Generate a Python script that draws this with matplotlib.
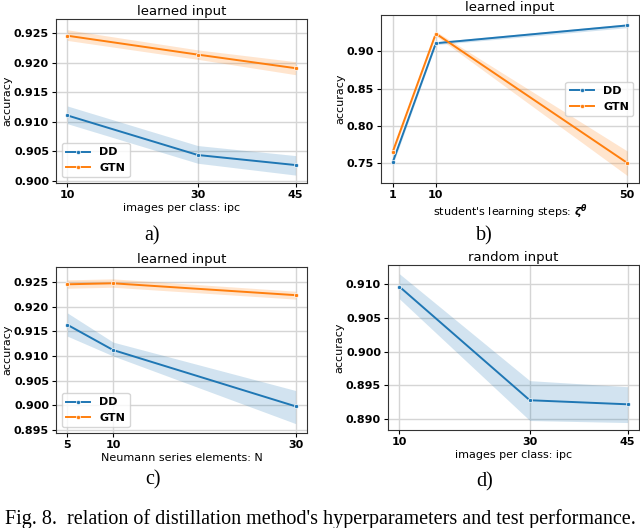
import matplotlib
matplotlib.use("Agg")
import matplotlib.pyplot as plt
from matplotlib.ticker import FormatStrFormatter

# a) learned input, images per class
ipc = [10, 30, 45]
a_dd = [0.9111, 0.9044, 0.9027]
a_dd_lo = [0.9097, 0.9030, 0.9010]
a_dd_hi = [0.9127, 0.9060, 0.9043]
a_gtn = [0.9246, 0.9214, 0.9191]
a_gtn_lo = [0.9238, 0.9206, 0.9180]
a_gtn_hi = [0.9256, 0.9222, 0.9202]

# b) learned input, student's learning steps
steps = [1, 10, 50]
b_dd = [0.751, 0.911, 0.935]
b_dd_lo = [0.747, 0.909, 0.932]
b_dd_hi = [0.755, 0.913, 0.937]
b_gtn = [0.765, 0.924, 0.750]
b_gtn_lo = [0.761, 0.921, 0.733]
b_gtn_hi = [0.769, 0.927, 0.766]

# c) learned input, Neumann series elements
neumann = [5, 10, 30]
c_dd = [0.9163, 0.9112, 0.8998]
c_dd_lo = [0.9140, 0.9100, 0.8963]
c_dd_hi = [0.9187, 0.9128, 0.9030]
c_gtn = [0.9245, 0.9247, 0.9223]
c_gtn_lo = [0.9237, 0.9239, 0.9215]
c_gtn_hi = [0.9254, 0.9256, 0.9231]

# d) random input, images per class
d_dd = [0.9096, 0.8928, 0.8922]
d_dd_lo = [0.9078, 0.8898, 0.8895]
d_dd_hi = [0.9115, 0.8957, 0.8948]

BLUE = '#1f77b4'
ORANGE = '#ff7f0e'

W, H = 640, 528
fig = plt.figure(figsize=(6.4, 5.28), dpi=100)


def px_axes(l, t, r, b):
    return fig.add_axes([l / W, 1 - b / H, (r - l) / W, (b - t) / H])


def draw(ax, x, series, title, xlabel, yticks, yfmt, ylim, legend_loc=None):
    for y, lo, hi, c, lab in series:
        ax.fill_between(x, lo, hi, color=c, alpha=0.2, lw=0)
        ax.plot(x, y, color=c, lw=1.4, marker='o', ms=3,
                mec='white', mew=0.5, label=lab)
    ax.set_title(title, fontsize=9.5, pad=3)
    ax.set_xlabel(xlabel, fontsize=8, labelpad=2)
    ax.set_ylabel('accuracy', fontsize=8, labelpad=1)
    ax.set_xticks(x)
    ax.set_yticks(yticks)
    ax.set_ylim(*ylim)
    pad = (x[-1] - x[0]) * 0.05
    ax.set_xlim(x[0] - pad, x[-1] + pad)
    ax.grid(True, color='#d5d5d5', lw=1)
    ax.set_axisbelow(True)
    ax.yaxis.set_major_formatter(FormatStrFormatter(yfmt))
    for lbl in ax.get_xticklabels() + ax.get_yticklabels():
        lbl.set_fontweight('bold')
        lbl.set_fontsize(8)
    ax.tick_params(length=3, pad=2)
    for s in ax.spines.values():
        s.set_color('#333333')
        s.set_linewidth(0.8)
    if legend_loc:
        leg = ax.legend(loc=legend_loc, prop={'weight': 'bold', 'size': 8},
                        handlelength=2.2)
        leg.get_frame().set_edgecolor('#cccccc')


ax = px_axes(56, 19, 307, 183)
draw(ax, ipc, [(a_dd, a_dd_lo, a_dd_hi, BLUE, 'DD'),
               (a_gtn, a_gtn_lo, a_gtn_hi, ORANGE, 'GTN')],
     'learned input', 'images per class: ipc',
     [0.900, 0.905, 0.910, 0.915, 0.920, 0.925], '%.3f', (0.89966, 0.92743),
     'lower left')

ax = px_axes(381, 15, 639, 183)
draw(ax, steps, [(b_dd, b_dd_lo, b_dd_hi, BLUE, 'DD'),
                 (b_gtn, b_gtn_lo, b_gtn_hi, ORANGE, 'GTN')],
     'learned input', r"student's learning steps: $\mathbfit{\zeta^{\theta}}$",
     [0.75, 0.80, 0.85, 0.90], '%.2f', (0.723, 0.949), 'center right')

ax = px_axes(56, 267, 307, 433)
draw(ax, neumann, [(c_dd, c_dd_lo, c_dd_hi, BLUE, 'DD'),
                   (c_gtn, c_gtn_lo, c_gtn_hi, ORANGE, 'GTN')],
     'learned input', 'Neumann series elements: N',
     [0.895, 0.900, 0.905, 0.910, 0.915, 0.920, 0.925], '%.3f', (0.8944, 0.928),
     'lower left')

ax = px_axes(388, 265, 639, 430)
draw(ax, ipc, [(d_dd, d_dd_lo, d_dd_hi, BLUE, 'DD')],
     'random input', 'images per class: ipc',
     [0.890, 0.895, 0.900, 0.905, 0.910], '%.3f', (0.8884, 0.9128))

serif = ['Liberation Serif', 'DejaVu Serif']
for lab, x, y in [('a)', 152, 236), ('b)', 484, 236), ('c)', 153, 480), ('d)', 485, 482)]:
    fig.text(x / W, 1 - y / H, lab, ha='center', va='center',
             fontsize=14.5, family=serif)
fig.text(320 / W, 1 - 519 / H,
         "Fig. 8.  relation of distillation method's hyperparameters and test performance.",
         ha='center', va='center', fontsize=14.5, family=serif)

fig.savefig('out.png', dpi=100)
